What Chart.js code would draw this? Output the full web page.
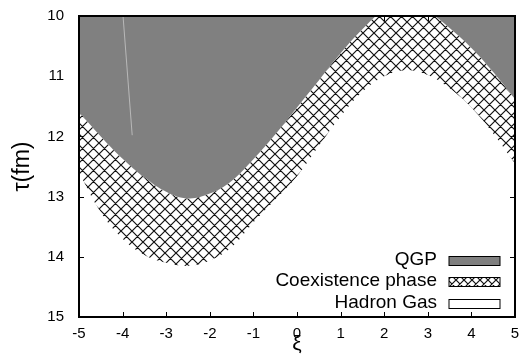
<!DOCTYPE html>
<html>
<head>
<meta charset="utf-8">
<script src="https://cdn.jsdelivr.net/npm/chart.js@4"></script>
<style>
  html, body { margin: 0; background: #fff; }
  #wrap { width: 520px; height: 357px; }
</style>
</head>
<body>
<div id="wrap"><canvas id="phaseChart"></canvas></div>
<script>
// phase boundaries, tau in fm
const xi        = [-5, -4.5, -4, -3.5, -3, -2.5, -2, -1.5, -1, -0.5, 0, 0.5, 1, 1.5, 2, 2.5, 3, 3.5, 4, 4.5, 5];
const tauQGP    = [11.59, 12.0, 12.37, 12.68, 12.92, 13.03, 12.95, 12.74, 12.38, 11.97, 11.52, 11.07, 10.62, 10.22, 9.9, 9.77, 9.92, 10.2, 10.53, 10.93, 11.38];
const tauHadron = [12.6, 13.26, 13.7, 13.97, 14.1, 14.15, 14.06, 13.84, 13.43, 13.05, 12.66, 12.16, 11.67, 11.26, 11.0, 10.9, 10.98, 11.2, 11.52, 11.95, 12.45];
// faint streak inside the QGP area
const streakXi  = [-3.99, -3.78];
const streakTau = [10, 11.98];

const xTicks = [-5, -4, -3, -2, -1, 0, 1, 2, 3, 4, 5];
const yTicks = [10, 11, 12, 13, 14, 15];
const legendLabels = ['QGP', 'Coexistence phase', 'Hadron Gas'];

const FONT = "'Liberation Sans', Arial, sans-serif";
Chart.defaults.font.family = FONT;
Chart.defaults.color = '#000';

function hatch(s) {
  const c = document.createElement('canvas');
  c.width = c.height = s;
  const g = c.getContext('2d');
  g.strokeStyle = '#111';
  g.lineWidth = 1.2;
  g.beginPath();
  for (let k = -1; k <= 1; k++) {
    g.moveTo(k * s, 0); g.lineTo(k * s + s, s);
    g.moveTo(k * s + s, 0); g.lineTo(k * s, s);
  }
  g.stroke();
  return g.createPattern(c, 'repeat');
}
const hatchFill = hatch(11);
const hatchSmall = hatch(8);

const pts = (xs, ys) => xs.map((x, i) => ({ x: x, y: ys[i] }));

const frame = {
  id: 'frame',
  beforeDraw(chart) {
    // gnuplot style inward ticks, under the fills
    const { ctx, chartArea: a, scales } = chart;
    ctx.save();
    ctx.strokeStyle = '#000';
    ctx.lineWidth = 1;
    ctx.beginPath();
    xTicks.forEach(v => {
      const px = Math.round(scales.x.getPixelForValue(v)) + 0.5;
      ctx.moveTo(px, a.bottom); ctx.lineTo(px, a.bottom - 5);
      ctx.moveTo(px, a.top); ctx.lineTo(px, a.top + 5);
    });
    yTicks.forEach(v => {
      const py = Math.round(scales.y.getPixelForValue(v)) + 0.5;
      ctx.moveTo(a.left, py); ctx.lineTo(a.left + 5, py);
      ctx.moveTo(a.right, py); ctx.lineTo(a.right - 5, py);
    });
    ctx.stroke();
    ctx.restore();
  },
  afterDraw(chart) {
    const { ctx, chartArea: a } = chart;
    ctx.save();
    ctx.strokeStyle = '#000';
    ctx.lineWidth = 2;
    ctx.strokeRect(a.left, a.top, a.right - a.left, a.bottom - a.top);

    // legend, text right aligned with key box on the right
    const fills = ['#808080', hatchSmall, '#ffffff'];
    const rows = [a.bottom - 57, a.bottom - 36, a.bottom - 14];
    ctx.font = '19px ' + FONT;
    ctx.textAlign = 'right';
    ctx.textBaseline = 'middle';
    ctx.lineWidth = 1;
    legendLabels.forEach((txt, i) => {
      ctx.fillStyle = '#000';
      ctx.fillText(txt, a.right - 78, rows[i]);
      const bx = a.right - 66, by = Math.round(rows[i] - 4.5) + 0.5;
      ctx.fillStyle = fills[i];
      ctx.fillRect(bx, by, 51, 9);
      ctx.strokeRect(bx, by, 51, 9);
    });
    ctx.restore();
  }
};

new Chart(document.getElementById('phaseChart'), {
  type: 'line',
  data: {
    datasets: [
      {
        label: legendLabels[0],
        data: pts(xi, tauQGP),
        borderColor: 'rgba(0,0,0,0)',
        backgroundColor: '#808080',
        fill: 'end',
        pointRadius: 0,
        tension: 0.4
      },
      {
        label: legendLabels[1],
        data: pts(xi, tauHadron),
        borderColor: 'rgba(0,0,0,0)',
        backgroundColor: hatchFill,
        fill: '-1',
        pointRadius: 0,
        tension: 0.4
      },
      {
        label: 'streak',
        data: pts(streakXi, streakTau),
        borderColor: '#b8b8b8',
        borderWidth: 1,
        fill: false,
        pointRadius: 0,
        order: -1
      }
    ]
  },
  options: {
    responsive: true,
    maintainAspectRatio: false,
    devicePixelRatio: 1,
    animation: false,
    layout: { padding: { left: 0, right: 5, top: 12, bottom: 0 } },
    plugins: {
      legend: { display: false },
      tooltip: { enabled: false }
    },
    scales: {
      x: {
        type: 'linear',
        min: -5,
        max: 5,
        grid: { display: false },
        border: { display: false },
        afterBuildTicks: s => { s.ticks = xTicks.map(v => ({ value: v })); },
        afterFit: s => { s.height = 40; },
        ticks: { font: { size: 15 }, padding: 0, maxRotation: 0, autoSkip: false },
        title: { display: true, text: 'ξ', font: { size: 21 }, padding: { top: 0, bottom: 0 } }
      },
      y: {
        type: 'linear',
        reverse: true,
        min: 10,
        max: 15,
        grid: { display: false },
        border: { display: false },
        afterBuildTicks: s => { s.ticks = yTicks.map(v => ({ value: v })); },
        afterFit: s => { s.width = 79; },
        ticks: { font: { size: 15 }, padding: 7, autoSkip: false },
        title: { display: true, text: 'τ(fm)', font: { size: 23 }, padding: { top: 9, bottom: 0 } }
      }
    }
  },
  plugins: [frame]
});
</script>
</body>
</html>
